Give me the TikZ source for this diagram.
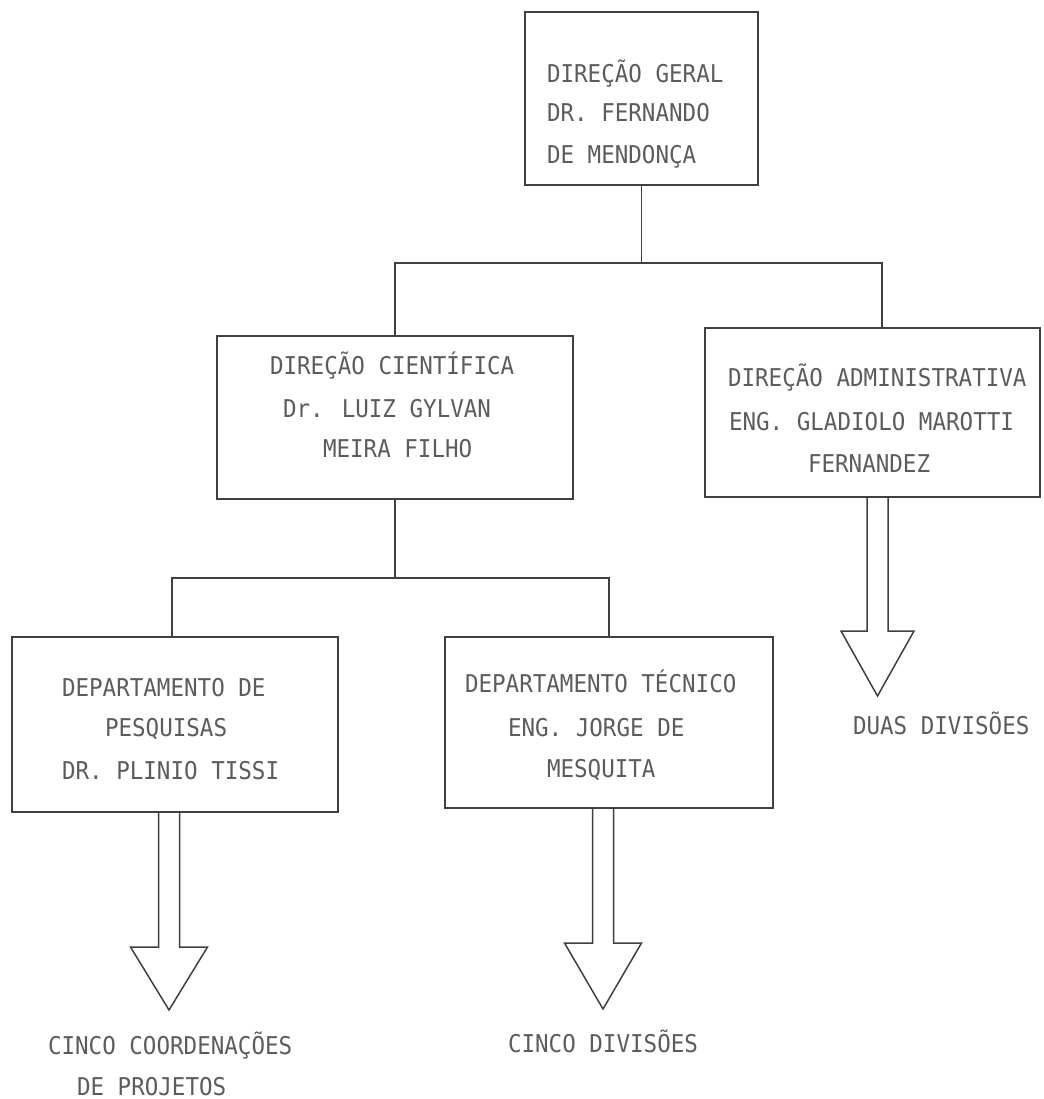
\documentclass[tikz,border=0pt]{standalone}
\usepackage{fontspec}
\newfontfamily\tw[FakeStretch=0.92]{DejaVu Sans Mono}
\definecolor{ink}{RGB}{64,64,64}
\definecolor{txt}{RGB}{92,92,92}
\begin{document}
\begin{tikzpicture}[x=1pt,y=-1pt,
  box/.style={draw=ink, line width=1.7pt, inner sep=0pt, outer sep=0pt},
  link/.style={draw=ink, line width=1.6pt},
  harrow/.style={draw=ink, line width=1.5pt, line join=miter},
  lbl/.style={anchor=base west, inner sep=0pt, outer sep=0pt, text=txt,
    font=\tw\fontsize{24.5}{29}\selectfont}]
\fill[white] (0,0) rectangle (1043,1099);
\useasboundingbox (0,0) rectangle (1043,1099);

% boxes
\node[box, minimum width=233pt, minimum height=173pt] (geral) at (641.5,98.5) {};
\node[box, minimum width=356pt, minimum height=163pt] (cient) at (395,417.5) {};
\node[box, minimum width=335pt, minimum height=169pt] (admin) at (872.5,412.5) {};
\node[box, minimum width=326pt, minimum height=175pt] (pesq) at (175,724.5) {};
\node[box, minimum width=328pt, minimum height=171pt] (tecn) at (609,722.5) {};

% texts
\node[lbl] (g1) at (547,83) {DIREÇÃO GERAL};
\node[lbl] (g2) at (547,122) {DR. FERNANDO};
\node[lbl] (g3) at (547,164) {DE MENDONÇA};

\node[lbl] (c1) at (270,374) {DIREÇÃO CIENTÍFICA};
\node[lbl] (c2) at (283,417) {Dr. LUIZ GYLVAN};
\node[lbl] (c3) at (323,457) {MEIRA FILHO};

\node[lbl] (a1) at (728,386) {DIREÇÃO ADMINISTRATIVA};
\node[lbl] (a2) at (729,430) {ENG. GLADIOLO MAROTTI};
\node[lbl] (a3) at (808,472) {FERNANDEZ};

\node[lbl] (p1) at (62,696) {DEPARTAMENTO DE};
\node[lbl] (p2) at (105,736) {PESQUISAS};
\node[lbl] (p3) at (62,779) {DR. PLINIO TISSI};

\node[lbl] (t1) at (465,692) {DEPARTAMENTO TÉCNICO};
\node[lbl] (t2) at (508,736) {ENG. JORGE DE};
\node[lbl] (t3) at (547,777) {MESQUITA};

\node[lbl] (b1) at (48,1054) {CINCO COORDENAÇÕES};
\node[lbl] (b2) at (77,1095) {DE PROJETOS};
\node[lbl] (b3) at (508,1052) {CINCO DIVISÕES};
\node[lbl] (b4) at (853,734) {DUAS DIVISÕES};

% connectors
\coordinate (j1) at (641.5,263);
\coordinate (ja) at ([xshift=9.5pt]admin.north);
\draw[link] (geral.south) -- (j1);
\draw[link] (cient.north) |- (j1) -| (ja);

\coordinate (j2) at (395,578);
\coordinate (jp) at ([xshift=-3pt]pesq.north);
\draw[link] (cient.south) -- (j2);
\draw[link] (jp) |- (j2) -| (tecn.north);

% hollow arrows
\coordinate (ap) at ([xshift=-6pt]pesq.south);
\coordinate (at) at ([xshift=-6pt]tecn.south);
\coordinate (aa) at ([xshift=5pt]admin.south);
\draw[harrow] (ap) ++(-10.5,0) -- ++(0,135) -- ++(-28,0) -- ++(38.5,63) -- ++(38.5,-63) -- ++(-28,0) -- ++(0,-135);
\draw[harrow] (at) ++(-10.5,0) -- ++(0,135) -- ++(-28,0) -- ++(38.5,66) -- ++(38.5,-66) -- ++(-28,0) -- ++(0,-135);
\draw[harrow] (aa) ++(-10.5,0) -- ++(0,134) -- ++(-26,0) -- ++(36.5,65) -- ++(36.5,-65) -- ++(-26,0) -- ++(0,-134);
\end{tikzpicture}
\end{document}
